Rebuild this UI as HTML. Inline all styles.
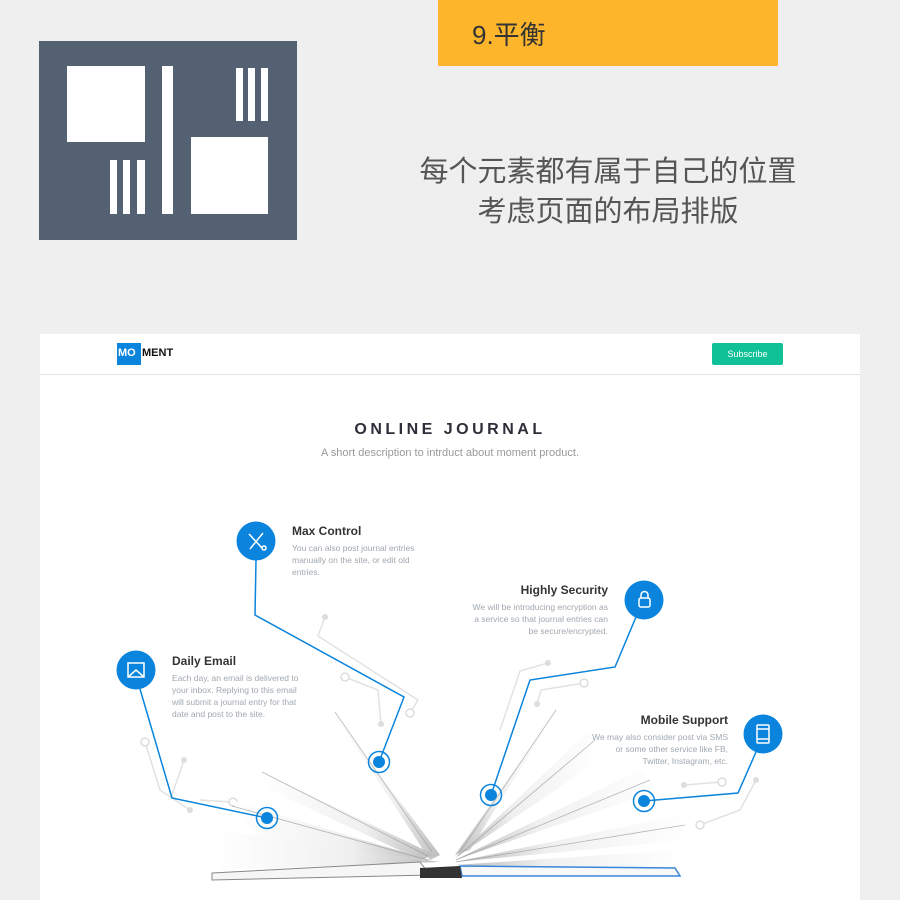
<!DOCTYPE html>
<html><head><meta charset="utf-8"><style>
body{margin:0;width:900px;height:900px;background:#efefef;position:relative;overflow:hidden;font-family:"Liberation Sans","Noto Sans CJK SC",sans-serif}
.a{position:absolute}
.w{background:#fff}
</style></head><body>
<div class="a" style="left:39px;top:41px;width:258px;height:199px;background:#536172"></div>
<div class="a w" style="left:67px;top:66px;width:78px;height:76px"></div>
<div class="a w" style="left:162px;top:66px;width:11px;height:148px"></div>
<div class="a w" style="left:236px;top:68px;width:7px;height:53px"></div>
<div class="a w" style="left:248px;top:68px;width:7px;height:53px"></div>
<div class="a w" style="left:261px;top:68px;width:7px;height:53px"></div>
<div class="a w" style="left:191px;top:137px;width:77px;height:77px"></div>
<div class="a w" style="left:110px;top:160px;width:7px;height:54px"></div>
<div class="a w" style="left:123px;top:160px;width:7px;height:54px"></div>
<div class="a w" style="left:137px;top:160px;width:8px;height:54px"></div>
<div class="a" style="left:438px;top:0;width:340px;height:66px;background:#fdb62b"></div>
<div class="a" style="left:472px;top:15px;font-size:26px;color:#333">9.平衡</div>
<div class="a" style="left:390px;top:152px;width:436px;text-align:center;font-size:29px;line-height:40px;color:#555">每个元素都有属于自己的位置<br>考虑页面的布局排版</div>

<div class="a w" style="left:40px;top:334px;width:820px;height:566px"></div>
<div class="a" style="left:40px;top:374px;width:820px;height:1px;background:#e3e3e3"></div>
<div class="a" style="left:117px;top:343px;width:24px;height:22px;background:#0a84dc"></div>
<div class="a" style="left:118px;top:347px;font-size:11px;font-weight:bold;color:#fff">MO</div>
<div class="a" style="left:142px;top:347px;font-size:11px;font-weight:bold;color:#111">MENT</div>
<div class="a" style="left:712px;top:343px;width:71px;height:22px;background:#10c096;border-radius:2px;color:#fff;font-size:9px;text-align:center;line-height:22px">Subscribe</div>
<div class="a" style="left:300px;top:421px;width:300px;text-align:center;font-size:16px;font-weight:bold;letter-spacing:3.5px;color:#2e2e3a">ONLINE JOURNAL</div>
<div class="a" style="left:250px;top:447px;width:400px;text-align:center;font-size:11px;color:#999">A short description to intrduct about moment product.</div>

<svg class="a" style="left:0;top:0" width="900" height="900">
<defs><linearGradient id="pg" x1="0" y1="0" x2="1" y2="0"><stop offset="0" stop-color="#fff"/><stop offset="0.6" stop-color="#f0f0f0"/><stop offset="1" stop-color="#bbb"/></linearGradient>
<linearGradient id="pg2" x1="1" y1="0" x2="0" y2="0"><stop offset="0" stop-color="#fff"/><stop offset="0.6" stop-color="#f0f0f0"/><stop offset="1" stop-color="#bbb"/></linearGradient></defs>
<g stroke="#e2e2e2" stroke-width="1.5" fill="none">
<path d="M325 617 L318 636 L418 700 L410 713"/><path d="M345 677 L378 690 L381 724"/>
<path d="M584 683 L541 690 L537 704"/><path d="M548 663 L520 671 L500 730"/>
<path d="M145 742 L160 790 L190 810"/><path d="M184 760 L172 795"/><path d="M233 802 L200 800"/>
<path d="M684 785 L722 782"/><path d="M756 780 L740 810 L700 825"/>
</g>
<g fill="#ddd"><circle cx="325" cy="617" r="3"/><circle cx="381" cy="724" r="3"/><circle cx="537" cy="704" r="3"/><circle cx="548" cy="663" r="3"/><circle cx="184" cy="760" r="3"/><circle cx="190" cy="810" r="3"/><circle cx="684" cy="785" r="3"/><circle cx="756" cy="780" r="3"/></g>
<g fill="#fff" stroke="#ddd" stroke-width="1.5"><circle cx="345" cy="677" r="4"/><circle cx="410" cy="713" r="4"/><circle cx="584" cy="683" r="4"/><circle cx="145" cy="742" r="4"/><circle cx="233" cy="802" r="4"/><circle cx="722" cy="782" r="4"/><circle cx="700" cy="825" r="4"/></g>
<!-- book -->
<g>
<path d="M330 708 L440 855 L430 860 Z" fill="url(#pg)"/>
<path d="M258 770 L435 855 L420 860 L270 790 Z" fill="url(#pg)"/>
<path d="M230 800 L430 860 L260 840 Z" fill="url(#pg)"/>
<path d="M215 830 L440 862 L220 870 Z" fill="url(#pg)"/>
<path d="M560 705 L455 855 L470 850 Z" fill="url(#pg2)"/>
<path d="M590 730 L455 858 L600 760 Z" fill="url(#pg2)"/>
<path d="M640 770 L455 860 L660 790 Z" fill="url(#pg2)"/>
<path d="M680 815 L455 862 L690 840 Z" fill="url(#pg2)"/>
<path d="M680 850 L455 865 L685 870 Z" fill="url(#pg2)"/>
</g>
<g stroke="#999" stroke-width="0.8" fill="none" opacity="0.7">
<path d="M335 712 L432 852"/><path d="M262 772 L428 856"/><path d="M232 806 L428 860"/>
<path d="M556 710 L460 852"/><path d="M595 740 L458 856"/><path d="M650 780 L456 860"/><path d="M685 825 L456 862"/>
</g>
<path d="M212 873 L420 862 L430 875 L212 880 Z" fill="#f6f6f6" stroke="#888" stroke-width="1"/>
<path d="M460 866 L675 868 L680 876 L462 876 Z" fill="#f8f8f8" stroke="#3a86d8" stroke-width="1.5"/>
<path d="M420 868 L460 866 L462 878 L420 878 Z" fill="#333"/>
<g stroke="#0a84dc" stroke-width="1.5" fill="none">
<path d="M256 560 L255 615 L404 697 L379 762"/>
<path d="M636 617 L615 667 L530 680 L491 795"/>
<path d="M140 689 L172 798 L267 818"/>
<path d="M756 752 L738 793 L644 801"/>
</g>
<g fill="#0a84dc"><circle cx="256" cy="541" r="19.5"/><circle cx="644" cy="600" r="19.5"/><circle cx="136" cy="670" r="19.5"/><circle cx="763" cy="734" r="19.5"/>
<circle cx="379" cy="762" r="6"/><circle cx="491" cy="795" r="6"/><circle cx="267" cy="818" r="6"/><circle cx="644" cy="801" r="6"/></g>
<g fill="none" stroke="#0a84dc" stroke-width="1.5"><circle cx="379" cy="762" r="10.5"/><circle cx="491" cy="795" r="10.5"/><circle cx="267" cy="818" r="10.5"/><circle cx="644" cy="801" r="10.5"/></g>
<g stroke="#fff" stroke-width="1.5" fill="none">
<path d="M249 534 L262 548 M263 533 L250 549"/><circle cx="264" cy="548" r="2"/>
<rect x="639" y="598" width="11" height="9" rx="2"/><path d="M641 598 v-3 a3 3 0 0 1 7 0 v3"/>
<rect x="128" y="663" width="16" height="14"/><path d="M128 677 L136 670 L144 677"/>
<rect x="757" y="725" width="12" height="18" rx="1"/><path d="M757 729 h12 M757 739 h12"/>
</g>
</svg>

<div class="a" style="left:292px;top:524px;font-size:12px;font-weight:bold;color:#333">Max Control</div>
<div class="a" style="left:292px;top:542px;font-size:8.5px;line-height:12px;color:#a0a8b0;width:132px">You can also post journal entries manually on the site, or edit old entries.</div>
<div class="a" style="left:460px;top:583px;width:148px;text-align:right;font-size:12px;font-weight:bold;color:#333">Highly Security</div>
<div class="a" style="left:470px;top:601px;width:138px;text-align:right;font-size:8.5px;line-height:12px;color:#a0a8b0">We will be introducing encryption as a service so that journal entries can be secure/encrypted.</div>
<div class="a" style="left:172px;top:654px;font-size:12px;font-weight:bold;color:#333">Daily Email</div>
<div class="a" style="left:172px;top:672px;font-size:8.5px;line-height:12px;color:#a0a8b0;width:134px">Each day, an email is delivered to your inbox. Replying to this email will submit a journal entry for that date and post to the site.</div>
<div class="a" style="left:580px;top:713px;width:148px;text-align:right;font-size:12px;font-weight:bold;color:#333">Mobile Support</div>
<div class="a" style="left:588px;top:731px;width:140px;text-align:right;font-size:8.5px;line-height:12px;color:#a0a8b0">We may also consider post via SMS or some other service like FB, Twitter, Instagram, etc.</div>
</body></html>
